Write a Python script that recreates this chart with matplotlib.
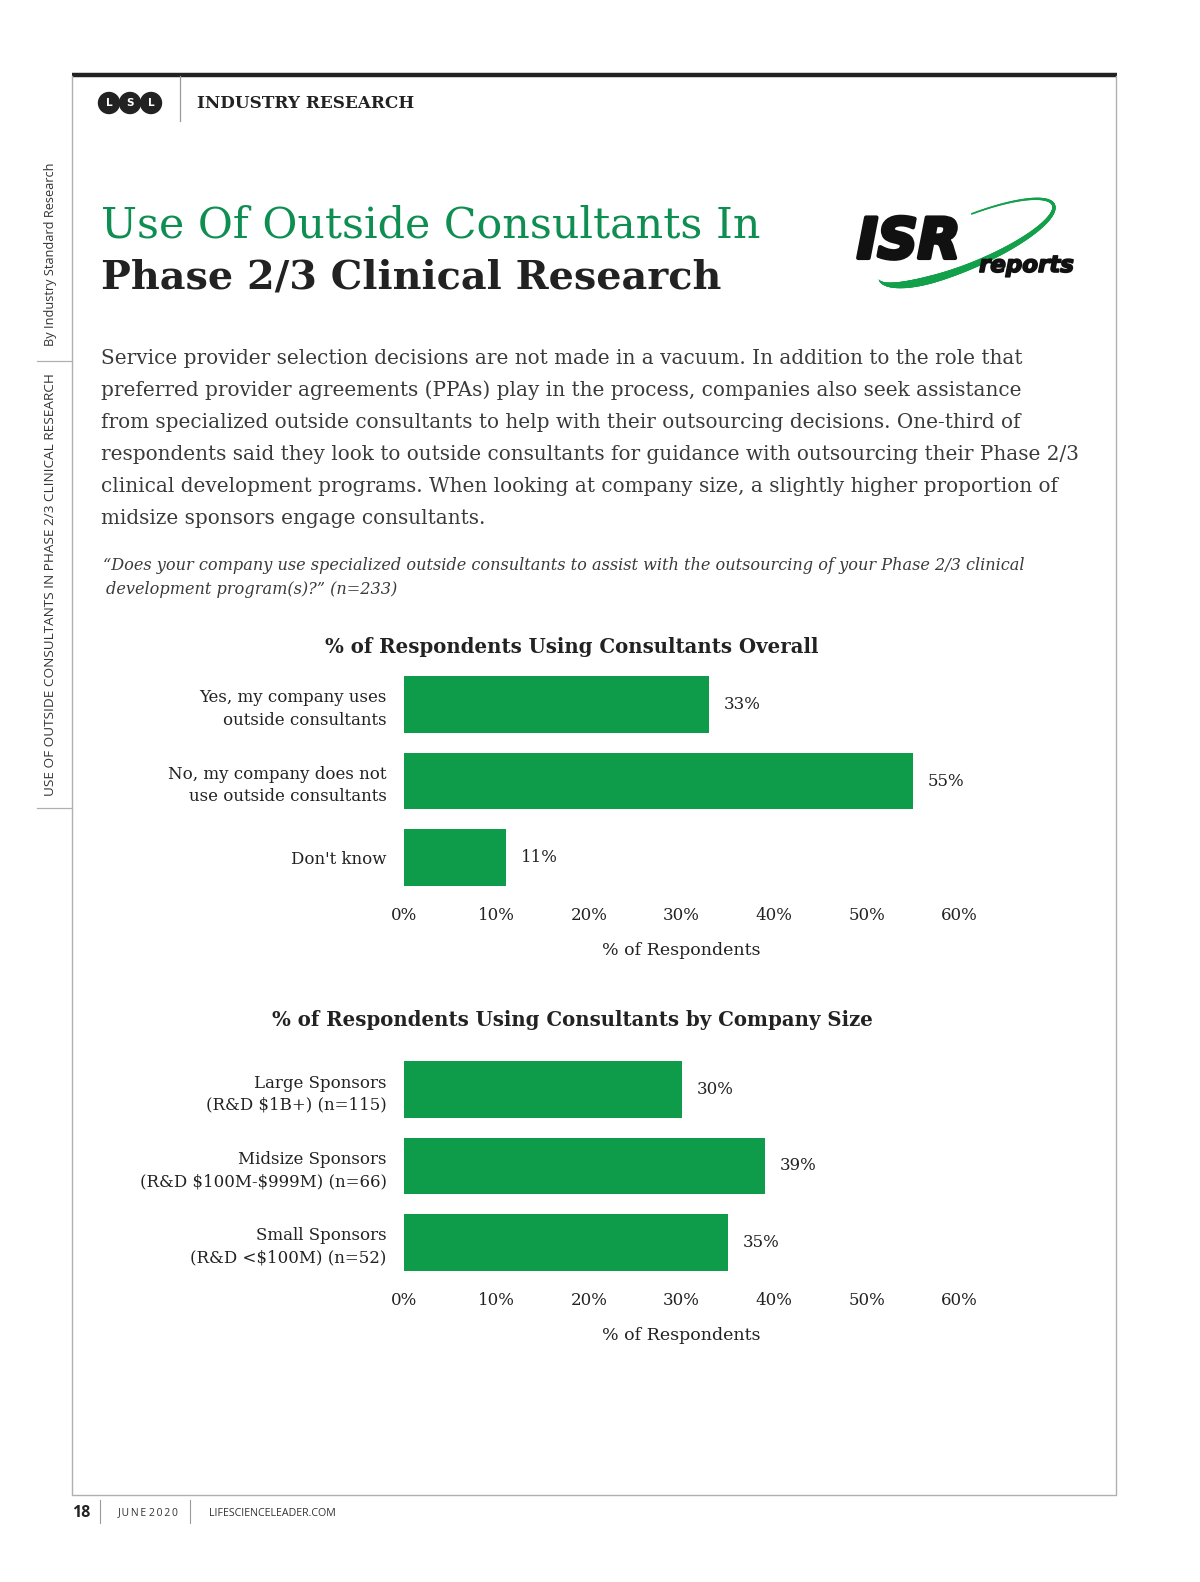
import numpy as np
import matplotlib
matplotlib.use("Agg")
import matplotlib.pyplot as plt
import matplotlib.patheffects as pe
from matplotlib.patches import Circle
from matplotlib.collections import LineCollection

# ---- data ----
overall_labels = ["Yes, my company uses\noutside consultants",
                  "No, my company does not\nuse outside consultants",
                  "Don't know"]
overall_values = [33, 55, 11]

size_labels = ["Large Sponsors\n(R&D \\$1B+) (n=115)",
               "Midsize Sponsors\n(R&D \\$100M-\\$999M) (n=66)",
               "Small Sponsors\n(R&D <\\$100M) (n=52)"]
size_values = [30, 39, 35]

x_ticks = [0, 10, 20, 30, 40, 50, 60]

BAR = "#0E9C4A"
GREEN_TITLE = "#0F8E52"
INK = "#222222"
BODY = "#3a3a3a"
SERIF = "DejaVu Serif"
SANS = "Open Sans"

W, H = 1200, 1582
fig = plt.figure(figsize=(W / 100, H / 100), dpi=100)
fig.patch.set_facecolor("white")

# pixel-space background axes for page furniture
bg = fig.add_axes([0, 0, 1, 1])
bg.set_xlim(0, W)
bg.set_ylim(H, 0)
bg.axis("off")

# page frame
bg.plot([72, 1117], [74.5, 74.5], color=INK, lw=3.2, solid_capstyle="butt")
bg.plot([72, 72, 1116, 1116], [76, 1495, 1495, 76], color="#b0b0b0", lw=1.0)
bg.plot([180, 180], [76, 121], color="#9a9a9a", lw=0.9)

# LSL badge
for cx, letter in zip([109, 130, 151], "LSL"):
    bg.add_patch(Circle((cx, 103), 10.5, color=INK))
    bg.text(cx, 103.5, letter, color="white", fontsize=7.5, fontweight="bold",
            family="DejaVu Sans", ha="center", va="center")
bg.text(197, 103, "INDUSTRY RESEARCH", fontsize=12.2, fontweight="bold",
        family=SERIF, color=INK, ha="left", va="center")

# side running heads
bg.text(51, 254, "By Industry Standard Research", rotation=90, fontsize=9.2,
        family=SANS, color="#333333", ha="center", va="center")
bg.text(51, 585, "USE OF OUTSIDE CONSULTANTS IN PHASE 2/3 CLINICAL RESEARCH",
        rotation=90, fontsize=9.7, family=SANS, color="#333333",
        ha="center", va="center")
bg.plot([37, 72], [361, 361], color="#b0b0b0", lw=0.9)
bg.plot([37, 72], [808, 808], color="#b0b0b0", lw=0.9)

# headline
bg.text(101, 237, "Use Of Outside Consultants In", fontsize=30.8, family=SERIF,
        color=GREEN_TITLE, ha="left", va="baseline")
bg.text(101, 288, "Phase 2/3 Clinical Research", fontsize=28.6, family=SERIF,
        fontweight="bold", color=INK, ha="left", va="baseline")

# ISR reports logo: green swoosh + lettering
t = np.linspace(np.pi, -1.4, 240)
cx, cy, a, b, th = 966, 242, 95, 24, np.deg2rad(-23)
ex = cx + a * np.cos(t) * np.cos(th) - b * np.sin(t) * np.sin(th)
ey = cy + a * np.cos(t) * np.sin(th) + b * np.sin(t) * np.cos(th)
pts = np.column_stack([ex, ey]).reshape(-1, 1, 2)
segs = np.concatenate([pts[:-1], pts[1:]], axis=1)
tm = 0.5 * (t[:-1] + t[1:])
widths = np.where(tm > 2.1, 5.8 * np.sin((np.pi - tm) / (np.pi - 2.1) * np.pi / 2),
                  1.2 + 4.6 * np.clip((tm + 1.4) / 3.5, 0, 1) ** 1.6)
bg.add_collection(LineCollection(segs, linewidths=widths, colors="#13A04A",
                                 capstyle="round"))
bg.text(857, 258, "ISR", fontsize=40, family="DejaVu Sans", fontweight="bold",
        fontstyle="italic", color="#111111", ha="left", va="baseline",
        path_effects=[pe.withStroke(linewidth=3, foreground="#111111")])
bg.text(979, 272, "reports", fontsize=16.5, family="DejaVu Sans",
        fontweight="bold", fontstyle="italic", color="#111111",
        ha="left", va="baseline",
        path_effects=[pe.withStroke(linewidth=1.2, foreground="#111111")])

# body copy
body = [
    "Service provider selection decisions are not made in a vacuum. In addition to the role that",
    "preferred provider agreements (PPAs) play in the process, companies also seek assistance",
    "from specialized outside consultants to help with their outsourcing decisions. One-third of",
    "respondents said they look to outside consultants for guidance with outsourcing their Phase 2/3",
    "clinical development programs. When looking at company size, a slightly higher proportion of",
    "midsize sponsors engage consultants.",
]
for i, line in enumerate(body):
    bg.text(101, 358 + 32 * i, line, fontsize=14.4, family=SERIF, color=BODY,
            ha="left", va="center")

bg.text(103, 566, "\u201cDoes your company use specialized outside consultants to assist with the "
        "outsourcing of your Phase 2/3 clinical", fontsize=11.6, family=SERIF,
        fontstyle="italic", color=BODY, ha="left", va="center")
bg.text(106, 589, "development program(s)?\u201d (n=233)", fontsize=11.6, family=SERIF,
        fontstyle="italic", color=BODY, ha="left", va="center")

# footer
bg.text(72, 1513, "18", fontsize=11.5, family=SANS, fontweight="bold", color=INK,
        ha="left", va="center")
bg.plot([100, 100], [1500, 1523], color="#9a9a9a", lw=0.8)
bg.text(118, 1513, "J U N E  2 0 2 0".replace(" ", "\u2009").replace("\u2009\u2009", " "),
        fontsize=7.5, family=SANS, color="#333333", ha="left", va="center")
bg.plot([190, 190], [1500, 1523], color="#9a9a9a", lw=0.8)
bg.text(209, 1513, "LIFESCIENCELEADER.COM", fontsize=7.7, family=SANS,
        color="#333333", ha="left", va="center")


def bar_panel(top_px, labels, values):
    left, right = 404, 959
    bottom_px = top_px + 229.5
    ax = fig.add_axes([left / W, 1 - bottom_px / H, (right - left) / W,
                       (bottom_px - top_px) / H])
    ax.patch.set_alpha(0)
    y = np.arange(len(values))
    ax.barh(y, values, height=0.745, color=BAR)
    ax.set_xlim(0, 60)
    ax.set_ylim(len(values) - 0.5, -0.5)
    ax.set_yticks(y)
    ax.set_yticklabels(labels, fontsize=12, family=SERIF, color=INK,
                       ha="right", linespacing=1.4)
    ax.set_xticks(x_ticks)
    ax.set_xticklabels([f"{v}%" for v in x_ticks], fontsize=12, family=SERIF,
                       color=INK)
    ax.tick_params(axis="both", length=0)
    ax.tick_params(axis="y", pad=12.5)
    ax.tick_params(axis="x", pad=8)
    for sp in ax.spines.values():
        sp.set_visible(False)
    for yi, v in zip(y, values):
        ax.text(v + 1.6, yi, f"{v}%", va="center", ha="left", fontsize=12,
                family=SERIF, color=INK)
    ax.set_xlabel("% of Respondents", fontsize=12.5, family=SERIF, color=INK,
                  labelpad=13)
    return ax


bg.text(572, 647, "% of Respondents Using Consultants Overall", fontsize=14.2,
        family=SERIF, fontweight="bold", color=INK, ha="center", va="center")
bar_panel(666.25, overall_labels, overall_values)

bg.text(572, 1020, "% of Respondents Using Consultants by Company Size",
        fontsize=14.2, family=SERIF, fontweight="bold", color=INK,
        ha="center", va="center")
bar_panel(1051.25, size_labels, size_values)

fig.savefig("out.png", dpi=100)
